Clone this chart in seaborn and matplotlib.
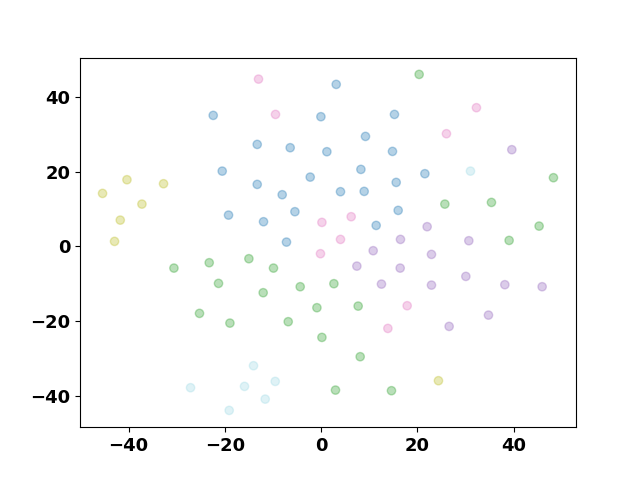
import matplotlib
matplotlib.use("Agg")
import matplotlib.pyplot as plt
import seaborn as sns
import pandas as pd

olive_x = [-40.35, -45.42, -32.75, -37.24, -41.74, -42.93, 24.36]
olive_y = [17.83, 14.17, 16.76, 11.31, 7.03, 1.34, -35.91]

pink_x = [-13.02, -9.49, 0.15, 32.25, 26.02, 6.23, 4.01, -0.15, 17.86, 13.85]
pink_y = [44.73, 35.29, 6.42, 37.09, 30.13, 7.94, 1.87, -1.95, -15.86, -21.93]

blue_x = [-22.43, -0.06, -13.29, -6.44, 1.18, -20.56, -2.28, -13.29, -8.10, -5.46,
          -19.25, -11.98, -7.21, 3.12, 15.22, 9.20, 14.81, 8.25, 21.54, 15.58,
          4.01, 8.93, 15.99, 11.42]
blue_y = [35.03, 34.68, 27.27, 26.39, 25.32, 20.13, 18.53, 16.58, 13.82, 9.28,
          8.37, 6.60, 1.15, 43.32, 35.29, 29.41, 25.40, 20.59, 19.44, 17.11,
          14.63, 14.71, 9.63, 5.61]

cyan_x = [31.01, -14.06, -27.14, -15.93, -9.55, -11.63, -19.11]
cyan_y = [20.13, -31.90, -37.78, -37.43, -36.10, -40.83, -43.85]

green_x = [20.35, 48.25, 25.69, 35.37, 45.27, 39.04, -30.59, -23.26, -15.02, -9.91,
           -21.33, -12.05, -4.36, 2.64, -25.28, -18.96, -6.85, -0.89, 0.15, 7.68,
           8.10, 2.97, 14.60]
green_y = [45.99, 18.37, 11.31, 11.76, 5.43, 1.60, -5.80, -4.36, -3.29, -5.80,
           -9.89, -12.38, -10.78, -9.97, -17.91, -20.51, -20.13, -16.39, -24.33, -15.96,
           -29.49, -38.42, -38.58]

purple_x = [39.60, 22.01, 16.47, 30.67, 10.80, 22.91, 7.41, 16.41, 12.52, 22.91,
            30.05, 38.15, 45.90, 34.75, 26.58]
purple_y = [25.86, 5.27, 1.87, 1.52, -1.15, -2.14, -5.27, -5.80, -10.08, -10.35,
            -8.02, -10.24, -10.78, -18.37, -21.39]

groups = {
    "blue": (blue_x, blue_y),
    "green": (green_x, green_y),
    "purple": (purple_x, purple_y),
    "pink": (pink_x, pink_y),
    "olive": (olive_x, olive_y),
    "cyan": (cyan_x, cyan_y),
}
palette = {"blue": "#1f77b4", "green": "#2ca02c", "purple": "#9467bd",
           "pink": "#e377c2", "olive": "#bcbd22", "cyan": "#9edae5"}

rows = []
for name, (xs, ys) in groups.items():
    for x, y in zip(xs, ys):
        rows.append({"x": x, "y": y, "cluster": name})
df = pd.DataFrame(rows)

plt.rcParams["font.family"] = ["DejaVu Sans"]
plt.rcParams["font.weight"] = "bold"

fig, ax = plt.subplots(figsize=(6.4, 4.8), dpi=100)
sns.scatterplot(data=df, x="x", y="y", hue="cluster", palette=palette,
                s=36, alpha=0.33, edgecolor="face", linewidth=1.0,
                legend=False, ax=ax)
ax.set_xlabel("")
ax.set_ylabel("")
ax.set_xticks([-40, -20, 0, 20, 40])
ax.set_yticks([-40, -20, 0, 20, 40])
ax.tick_params(labelsize=13)
for lab in ax.get_xticklabels() + ax.get_yticklabels():
    lab.set_fontweight("bold")
fig.savefig("out.png", dpi=100)
